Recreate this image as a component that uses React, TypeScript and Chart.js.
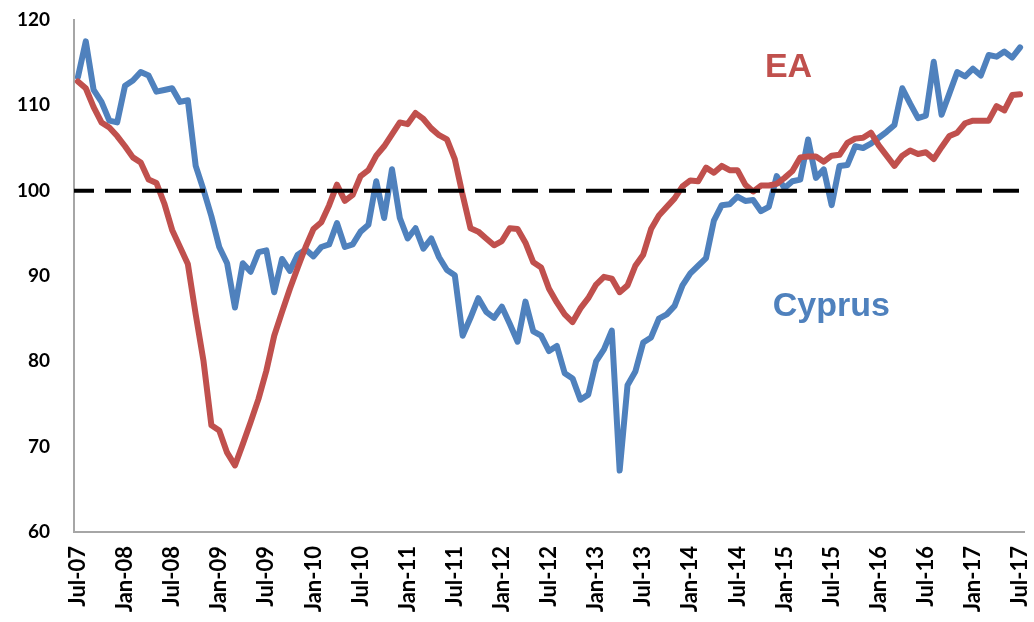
import React, { useEffect, useRef } from "react";
import { Chart, registerables } from "chart.js";

Chart.register(...registerables);

const months = [
  "Jul-07","Aug-07","Sep-07","Oct-07","Nov-07","Dec-07",
  "Jan-08","Feb-08","Mar-08","Apr-08","May-08","Jun-08","Jul-08","Aug-08","Sep-08","Oct-08","Nov-08","Dec-08",
  "Jan-09","Feb-09","Mar-09","Apr-09","May-09","Jun-09","Jul-09","Aug-09","Sep-09","Oct-09","Nov-09","Dec-09",
  "Jan-10","Feb-10","Mar-10","Apr-10","May-10","Jun-10","Jul-10","Aug-10","Sep-10","Oct-10","Nov-10","Dec-10",
  "Jan-11","Feb-11","Mar-11","Apr-11","May-11","Jun-11","Jul-11","Aug-11","Sep-11","Oct-11","Nov-11","Dec-11",
  "Jan-12","Feb-12","Mar-12","Apr-12","May-12","Jun-12","Jul-12","Aug-12","Sep-12","Oct-12","Nov-12","Dec-12",
  "Jan-13","Feb-13","Mar-13","Apr-13","May-13","Jun-13","Jul-13","Aug-13","Sep-13","Oct-13","Nov-13","Dec-13",
  "Jan-14","Feb-14","Mar-14","Apr-14","May-14","Jun-14","Jul-14","Aug-14","Sep-14","Oct-14","Nov-14","Dec-14",
  "Jan-15","Feb-15","Mar-15","Apr-15","May-15","Jun-15","Jul-15","Aug-15","Sep-15","Oct-15","Nov-15","Dec-15",
  "Jan-16","Feb-16","Mar-16","Apr-16","May-16","Jun-16","Jul-16","Aug-16","Sep-16","Oct-16","Nov-16","Dec-16",
  "Jan-17","Feb-17","Mar-17","Apr-17","May-17","Jun-17","Jul-17",
];

const shownTicks = [
  "Jul-07","Jan-08","Jul-08","Jan-09","Jul-09","Jan-10","Jul-10","Jan-11","Jul-11","Jan-12","Jul-12",
  "Jan-13","Jul-13","Jan-14","Jul-14","Jan-15","Jul-15","Jan-16","Jul-16","Jan-17","Jul-17",
];

const ea = [
  112.8, 112.0, 109.8, 108.0, 107.4, 106.4, 105.2, 103.9, 103.3, 101.3,
  100.9, 98.5, 95.4, 93.4, 91.4, 85.5, 80.0, 72.5, 71.9, 69.3,
  67.8, 70.3, 72.9, 75.6, 78.9, 83.0, 85.8, 88.5, 91.0, 93.4,
  95.5, 96.3, 98.3, 100.7, 98.8, 99.5, 101.7, 102.4, 104.1, 105.2,
  106.6, 108.0, 107.8, 109.1, 108.4, 107.3, 106.5, 106.0, 103.7, 99.5,
  95.6, 95.2, 94.4, 93.6, 94.1, 95.6, 95.5, 93.9, 91.6, 91.0,
  88.5, 86.9, 85.5, 84.6, 86.2, 87.4, 89.0, 89.9, 89.7, 88.1,
  88.9, 91.2, 92.5, 95.5, 97.1, 98.1, 99.1, 100.5, 101.2, 101.1,
  102.7, 102.1, 102.9, 102.4, 102.4, 100.7, 99.9, 100.6, 100.6, 100.8,
  101.5, 102.3, 103.9, 104.0, 104.0, 103.4, 104.1, 104.2, 105.6, 106.1,
  106.2, 106.8, 105.3, 104.1, 102.9, 104.1, 104.7, 104.3, 104.5, 103.7,
  105.1, 106.4, 106.8, 107.9, 108.2, 108.2, 108.2, 109.9, 109.4, 111.2,
  111.3,
];

const cyprus = [
  113.3, 117.5, 111.8, 110.4, 108.2, 108.0, 112.3, 112.9, 113.9, 113.5,
  111.6, 111.8, 112.0, 110.4, 110.6, 102.9, 100.1, 97.0, 93.4, 91.5,
  86.3, 91.5, 90.5, 92.8, 93.0, 88.1, 92.0, 90.6, 92.5, 93.1,
  92.3, 93.4, 93.7, 96.2, 93.4, 93.7, 95.2, 96.0, 101.1, 96.8,
  102.5, 96.8, 94.4, 95.6, 93.2, 94.4, 92.2, 90.7, 90.1, 83.0,
  85.1, 87.4, 85.8, 85.1, 86.4, 84.4, 82.3, 87.0, 83.5, 83.0,
  81.2, 81.8, 78.6, 78.0, 75.5, 76.1, 80.0, 81.4, 83.6, 67.2,
  77.2, 78.8, 82.2, 82.8, 85.0, 85.5, 86.5, 88.9, 90.3, 91.2,
  92.1, 96.5, 98.3, 98.4, 99.3, 98.8, 98.9, 97.6, 98.1, 101.7,
  100.3, 101.1, 101.3, 106.0, 101.5, 102.5, 98.3, 102.9, 103.0, 105.2,
  105.0, 105.5, 106.2, 106.9, 107.7, 112.0, 110.2, 108.5, 108.8, 115.1,
  108.9, 111.4, 113.9, 113.4, 114.3, 113.5, 115.9, 115.7, 116.3, 115.6,
  116.8,
];

const baseline = 100;
const yMin = 60;
const yMax = 120;
const yStep = 10;

const seriesLabels = [
  { text: "EA", color: "#C0504D", at: 87.5, value: 113.3 },
  { text: "Cyprus", color: "#4F81BD", at: 88.5, value: 85.3 },
];

export default function App() {
  const ref = useRef<HTMLCanvasElement>(null);

  useEffect(() => {
    const canvas = ref.current;
    if (!canvas) return;

    const overlay = {
      id: "overlay",
      afterDatasetsDraw(chart: any) {
        const { ctx, chartArea, scales } = chart;
        const py = scales.y.getPixelForValue(baseline);
        ctx.save();
        ctx.strokeStyle = "#000000";
        ctx.lineWidth = 4;
        ctx.setLineDash([26, 11]);
        ctx.lineDashOffset = 6;
        ctx.beginPath();
        ctx.moveTo(chartArea.left, py);
        ctx.lineTo(chartArea.right, py);
        ctx.stroke();
        ctx.restore();
      },
      afterDraw(chart: any) {
        const { ctx, scales } = chart;
        ctx.save();
        ctx.font = "bold 34px 'Liberation Sans', Arial, sans-serif";
        ctx.textAlign = "left";
        ctx.textBaseline = "alphabetic";
        for (const l of seriesLabels) {
          ctx.fillStyle = l.color;
          ctx.fillText(l.text, scales.x.getPixelForValue(l.at), scales.y.getPixelForValue(l.value));
        }
        ctx.restore();
      },
    };

    const chart = new Chart(canvas, {
      type: "line",
      data: {
        labels: months,
        datasets: [
          {
            label: "EA",
            data: ea,
            borderColor: "#C0504D",
            backgroundColor: "#C0504D",
            borderWidth: 6,
            pointRadius: 0,
            tension: 0,
            borderJoinStyle: "round",
            borderCapStyle: "round",
          },
          {
            label: "Cyprus",
            data: cyprus,
            borderColor: "#4F81BD",
            backgroundColor: "#4F81BD",
            borderWidth: 6,
            pointRadius: 0,
            tension: 0,
            borderJoinStyle: "round",
            borderCapStyle: "round",
          },
        ],
      },
      options: {
        responsive: false,
        animation: false,
        layout: { padding: { top: 20, right: 10, left: 0, bottom: 0 } },
        plugins: { legend: { display: false }, tooltip: { enabled: false } },
        scales: {
          x: {
            type: "category",
            offset: true,
            grid: { display: false, drawTicks: false },
            border: { display: true, color: "#A6A6A6", width: 2 },
            ticks: {
              autoSkip: false,
              minRotation: 90,
              maxRotation: 90,
              padding: 14,
              color: "#000000",
              font: { family: "Lato", weight: "bold", size: 22 },
              callback: (_v: any, idx: number) =>
                shownTicks.includes(months[idx]) ? months[idx] : "",
            },
            afterFit: (scale: any) => {
              scale.height = 90;
              scale.paddingLeft = 0;
              scale.paddingRight = 0;
            },
          },
          y: {
            min: yMin,
            max: yMax,
            grid: { display: false, drawTicks: false },
            border: { display: true, color: "#A6A6A6", width: 2 },
            ticks: {
              stepSize: yStep,
              padding: 24,
              color: "#000000",
              font: { family: "Lato", weight: "bold", size: 19 },
            },
            afterFit: (scale: any) => {
              scale.width = 74;
              scale.paddingTop = 0;
              scale.paddingBottom = 0;
            },
          },
        },
      },
      plugins: [overlay],
    });

    return () => chart.destroy();
  }, []);

  return (
    <div style={{ position: "absolute", left: 0, top: 0, width: 1034, height: 622, background: "#ffffff" }}>
      <canvas ref={ref} width={1034} height={622} style={{ display: "block" }} />
    </div>
  );
}
